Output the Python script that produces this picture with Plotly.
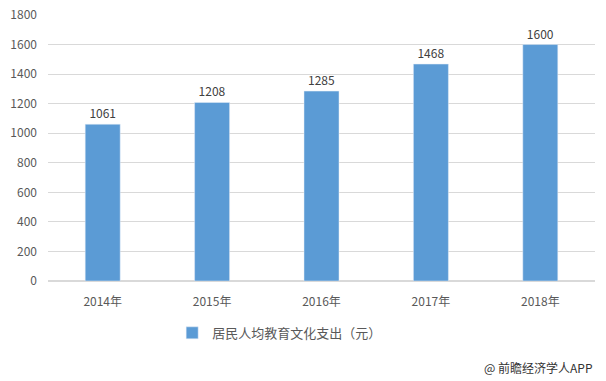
import plotly.graph_objects as go

years = ["2014年", "2015年", "2016年", "2017年", "2018年"]
values = [1061, 1208, 1285, 1468, 1600]
series_name = "居民人均教育文化支出（元）"

font_family = "Microsoft YaHei, Noto Sans CJK SC, sans-serif"

fig = go.Figure()
fig.add_trace(go.Bar(
    x=years, y=values, name=series_name,
    marker_color="#5B9BD5", width=0.32,
    text=[str(v) for v in values], textposition="outside",
    textfont=dict(size=12, color="#404040", family=font_family),
    cliponaxis=False,
))

fig.update_layout(
    width=606, height=381,
    margin=dict(l=48, r=11, t=15, b=100, autoexpand=False),
    paper_bgcolor="white", plot_bgcolor="white",
    font=dict(family=font_family, size=12, color="#595959"),
    showlegend=True,
    legend=dict(orientation="h", x=0.227, xanchor="left", y=-0.195, yanchor="middle",
                itemwidth=30, font=dict(size=13, color="#595959")),
    bargap=0.68,
)
fig.update_yaxes(range=[0, 1800], dtick=200, showgrid=True, gridcolor="#D9D9D9",
                 gridwidth=1, zeroline=True, zerolinecolor="#D9D9D9", ticks="",
                 tickfont=dict(size=12, color="#595959"), ticklabelstandoff=10)
fig.update_xaxes(showline=False, ticks="", tickfont=dict(size=12, color="#595959"),
                 ticklabelstandoff=12)

fig.add_annotation(text="@ 前瞻经济学人APP", xref="paper", yref="paper",
                   x=1.0, y=-0.327, xanchor="right", yanchor="middle", showarrow=False,
                   font=dict(size=12, color="#333333", family=font_family))

fig.write_html("out.html")
